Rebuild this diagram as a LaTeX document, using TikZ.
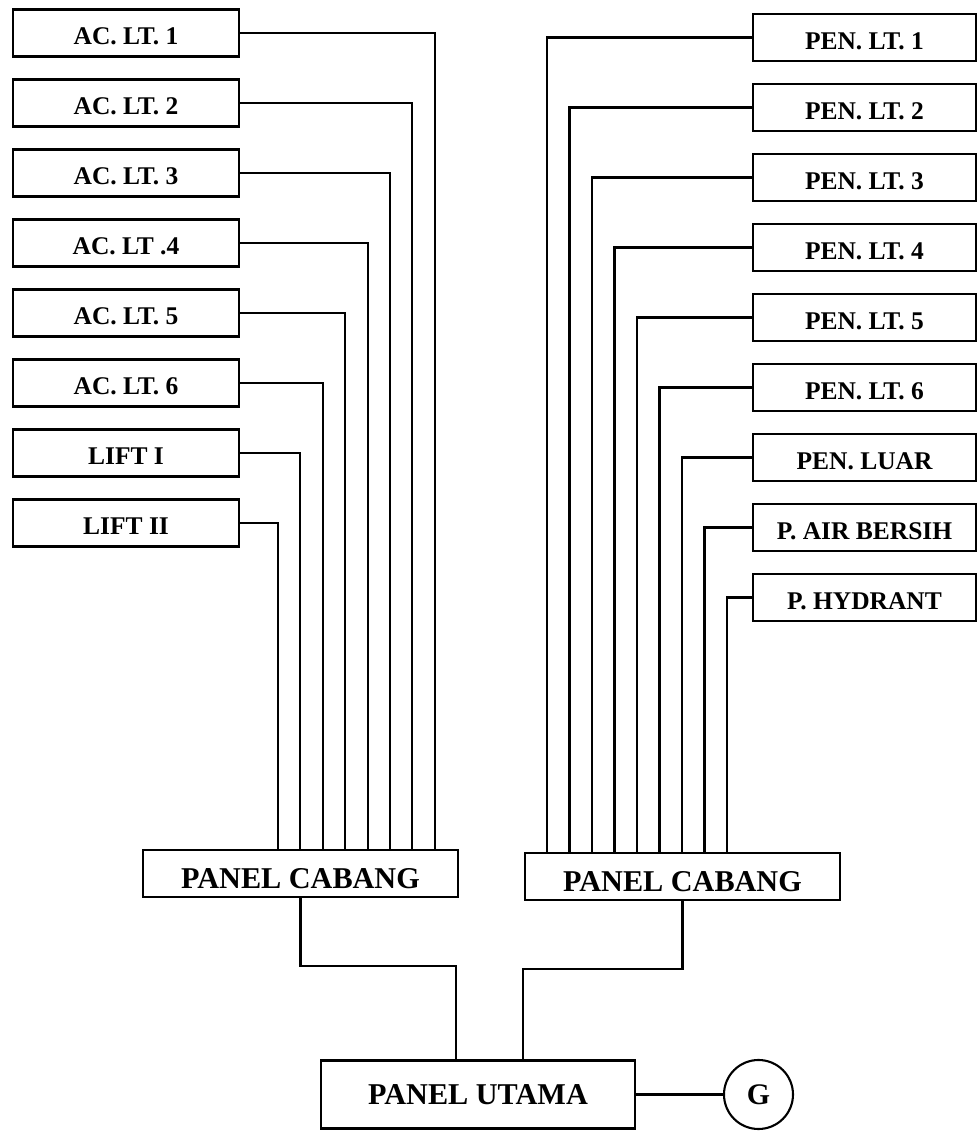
\documentclass[tikz,border=0pt]{standalone}
\usepackage{fontspec}
\setmainfont{Liberation Serif}
\usetikzlibrary{positioning,calc}

\begin{document}
\begin{tikzpicture}[
  node distance=0.46cm,
  load/.style={draw, line width=1.3pt, outer sep=0pt, inner sep=0pt,
    minimum width=4.52cm, minimum height=0.94cm, text height=13.5pt, text depth=0pt,
    font=\fontsize{14.5}{17}\selectfont\bfseries},
  feed/.style={load, minimum width=4.46cm},
  panel/.style={draw, line width=1.3pt, outer sep=0pt, inner sep=0pt,
    minimum width=6.3cm, minimum height=0.94cm,
    font=\fontsize{17.2}{20}\selectfont\bfseries},
  cabang/.style={panel, text height=17pt, text depth=0pt},
  gencirc/.style={draw, circle, line width=1.2pt, outer sep=0pt, inner sep=0pt,
    minimum size=1.38cm, font=\fontsize{17}{20}\selectfont\bfseries},
  wire/.style={line width=1.2pt}
]
\useasboundingbox (0,0) rectangle (19.54,22.62);

\node[load] (ac1) at (2.52,21.96) {AC. LT. 1};
\node[load, below=of ac1] (ac2) {AC. LT. 2};
\node[load, below=of ac2] (ac3) {AC. LT. 3};
\node[load, below=of ac3] (ac4) {AC. LT .4};
\node[load, below=of ac4] (ac5) {AC. LT. 5};
\node[load, below=of ac5] (ac6) {AC. LT. 6};
\node[load, below=of ac6] (lift1) {LIFT I};
\node[load, below=of lift1] (lift2) {LIFT II};

\node[feed] (pen1) at (17.29,21.87) {PEN. LT. 1};
\node[feed, below=of pen1] (pen2) {PEN. LT. 2};
\node[feed, below=of pen2] (pen3) {PEN. LT. 3};
\node[feed, below=of pen3] (pen4) {PEN. LT. 4};
\node[feed, below=of pen4] (pen5) {PEN. LT. 5};
\node[feed, below=of pen5] (pen6) {PEN. LT. 6};
\node[feed, below=of pen6] (penluar) {PEN. LUAR};
\node[feed, below=of penluar] (pair) {P. AIR BERSIH};
\node[feed, below=of pair] (phyd) {P. HYDRANT};

\node[cabang] (cabangL) at (6.01,5.15) {PANEL CABANG};
\node[cabang] (cabangR) at (13.65,5.09) {PANEL CABANG};
\node[panel, minimum width=6.28cm, minimum height=1.36cm] (utama) at (9.56,0.73) {PANEL UTAMA};
\node[gencirc] (gen) at (15.17,0.73) {G};

\foreach \n [count=\i from 0] in {lift2,lift1,ac6,ac5,ac4,ac3,ac2,ac1}
  \draw[wire] (\n.east) -| ($(cabangL.north west)+(2.70+0.448*\i,0)$);
\foreach \n [count=\i from 0] in {pen1,pen2,pen3,pen4,pen5,pen6,penluar,pair,phyd}
  \draw[wire] (\n.west) -| ($(cabangR.north west)+(0.44+0.45*\i,0)$);

\coordinate (jL) at (9.12,3.30);
\coordinate (jR) at (10.46,3.24);
\draw[wire] (cabangL.south) |- (jL) -- (jL |- utama.north);
\draw[wire] (cabangR.south) |- (jR) -- (jR |- utama.north);
\draw[wire] (utama.east) -- (gen.west);
\end{tikzpicture}
\end{document}
